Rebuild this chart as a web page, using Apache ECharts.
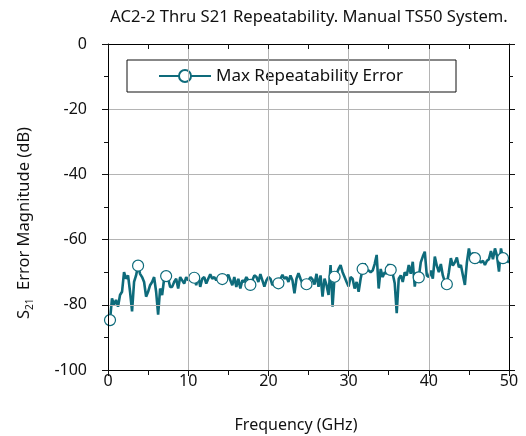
<!DOCTYPE html>
<html>
<head>
<meta charset="utf-8">
<script src="https://cdn.jsdelivr.net/npm/echarts@6/dist/echarts.min.js"></script>
<style>html,body{margin:0;padding:0;background:#fff}#c{width:526px;height:436px}</style>
</head>
<body>
<div id="c"></div>
<script>
const titleText = "AC2-2 Thru S21 Repeatability. Manual TS50 System.";
const seriesName = "Max Repeatability Error";
const xTicks = [0, 10, 20, 30, 40, 50];
const yTicks = [-100, -80, -60, -40, -20, 0];
const freqStart = 0.25, freqStep = 0.25;
const markerEvery = 14;
const errorDb = [
-84.7,-78,-80,-78.5,-80.6,-77,-76,-70,-72,-71,-76,-82,-73,-71,
-68,-70.5,-71.5,-73,-77.5,-76,-74,-73,-71.5,-76,-83,-75,-77,-72,
-71.2,-72,-74.5,-74.5,-73,-72,-75,-71.5,-72.5,-73.5,-71.5,-72.5,-71,-72,
-71.7,-74,-71,-74.5,-72,-71.5,-73.5,-72,-70.6,-72,-71.5,-72.5,-71.5,-72.5,
-72.1,-73,-71.5,-70.8,-72.5,-74,-71.5,-74.5,-72,-75,-72.5,-73,-71.5,-72.5,
-73.9,-72.5,-71,-71.4,-73,-70.6,-72.5,-74.4,-72.5,-71.5,-72,-74,-73,-73.5,
-73.4,-72,-70.8,-72,-71.5,-73,-71,-72.5,-76.5,-72,-70.3,-72,-73.5,-74,
-73.7,-72.5,-71.5,-72.2,-73.8,-70.5,-74.5,-71,-77.5,-72,-74,-77,-67.8,-80.6,
-71.4,-70.5,-69,-67.8,-70,-71.5,-73,-74.4,-71.5,-72,-75,-73,-76,-72,
-69,-67.3,-69.5,-69.5,-70,-69.5,-67.5,-64.7,-75,-69,-71.5,-70,-70.5,-67.5,
-69.3,-70.5,-73.4,-82.6,-72,-71,-73,-70,-71,-67.8,-70.5,-66.8,-74.4,-70,
-71.6,-67,-65.2,-63.7,-71,-71.5,-69.5,-72,-65.2,-68,-70,-67.5,-71,-73,
-73.7,-70,-65.7,-68,-67,-65.5,-68.5,-67.8,-70.9,-73.9,-67,-62.7,-66,-64,
-65.7,-67,-66.5,-67,-66.5,-67.8,-66.5,-66,-63.5,-66,-62.7,-65,-69.8,-62.7,
-65.7,-66,-66.5,-67
];
const freq = errorDb.map((v, i) => +(freqStart + i * freqStep).toFixed(2));
const points = errorDb.map((v, i) => [freq[i], v]);

const TEAL = '#0e6b7b';
const FONT = 'Noto Sans';
const chart = echarts.init(document.getElementById('c'), null, {renderer: 'canvas'});

const baseX = {
  type: 'value', min: xTicks[0], max: xTicks[xTicks.length - 1], interval: 10,
  axisLine: {show: true, onZero: false, lineStyle: {color: '#000', width: 1}},
  minorTick: {show: true, splitNumber: 2, length: 5, lineStyle: {color: '#111'}},
  splitLine: {show: false},
  z: 5
};
const baseY = {
  type: 'value', min: yTicks[0], max: yTicks[yTicks.length - 1], interval: 20,
  axisLine: {show: true, onZero: false, lineStyle: {color: '#000', width: 1}},
  minorTick: {show: true, splitNumber: 2, length: 4, lineStyle: {color: '#111'}},
  splitLine: {show: false},
  z: 5
};

chart.setOption({
  animation: false,
  backgroundColor: '#fff',
  grid: {left: 108, right: 17, top: 44, bottom: 66},
  xAxis: [
    Object.assign({}, baseX, {
      position: 'bottom',
      axisTick: {show: true, inside: false, length: 6, lineStyle: {color: '#111'}},
      axisLabel: {show: true, margin: 3, fontFamily: FONT, fontSize: 16, color: '#111'},
      splitLine: {show: true, showMinLine: false, showMaxLine: false, lineStyle: {color: '#b4b4b4', width: 1}}
    }),
    Object.assign({}, baseX, {
      position: 'top',
      axisTick: {show: true, inside: true, length: 5, lineStyle: {color: '#111'}},
      axisLabel: {show: false}
    })
  ],
  yAxis: [
    Object.assign({}, baseY, {
      position: 'left',
      axisTick: {show: true, inside: false, length: 6, lineStyle: {color: '#111'}},
      axisLabel: {show: true, margin: 21, fontFamily: FONT, fontSize: 16, color: '#111'},
      splitLine: {show: true, showMinLine: false, showMaxLine: false, lineStyle: {color: '#b4b4b4', width: 1}}
    }),
    Object.assign({}, baseY, {
      position: 'right',
      axisTick: {show: true, inside: false, length: 6, lineStyle: {color: '#111'}},
      axisLabel: {show: false}
    })
  ],
  legend: {
    show: true,
    left: 127, top: 60,
    orient: 'horizontal',
    backgroundColor: '#fff',
    borderColor: '#111', borderWidth: 1, borderRadius: 0,
    padding: [7, 52, 7, 31],
    itemWidth: 52, itemHeight: 15,
    textStyle: {fontFamily: FONT, fontSize: 17, color: '#111', lineHeight: 18, width: 188, overflow: 'none'},
    data: [seriesName]
  },
  series: [{
    name: seriesName,
    type: 'line',
    data: points,
    xAxisIndex: 0, yAxisIndex: 0,
    showSymbol: true,
    showAllSymbol: true,
    symbol: 'circle',
    symbolSize: function (val, params) { return params.dataIndex % markerEvery === 0 ? 11 : 0; },
    lineStyle: {color: TEAL, width: 2.6},
    itemStyle: {color: '#fff', borderColor: TEAL, borderWidth: 1.2},
    emphasis: {disabled: true},
    z: 3
  }],
  graphic: [
    {
      type: 'text', x: 309, y: 17,
      style: {text: titleText, fontFamily: FONT, fontSize: 16.6, fill: '#111', align: 'center', verticalAlign: 'middle'}
    },
    {
      type: 'text', x: 296, y: 425,
      style: {text: 'Frequency (GHz)', fontFamily: FONT, fontSize: 16, fill: '#111', align: 'center', verticalAlign: 'middle'}
    },
    {
      type: 'text', x: 24, y: 223, rotation: Math.PI / 2,
      style: {
        text: '{m|S}{sub|21}{m|  Error Magnitude (dB)}',
        align: 'center', verticalAlign: 'middle',
        rich: {
          m: {fontFamily: FONT, fontSize: 16.5, fill: '#111', lineHeight: 22},
          sub: {fontFamily: FONT, fontSize: 10, fill: '#111', lineHeight: 12, verticalAlign: 'bottom'}
        }
      }
    }
  ]
});
</script>
</body>
</html>
